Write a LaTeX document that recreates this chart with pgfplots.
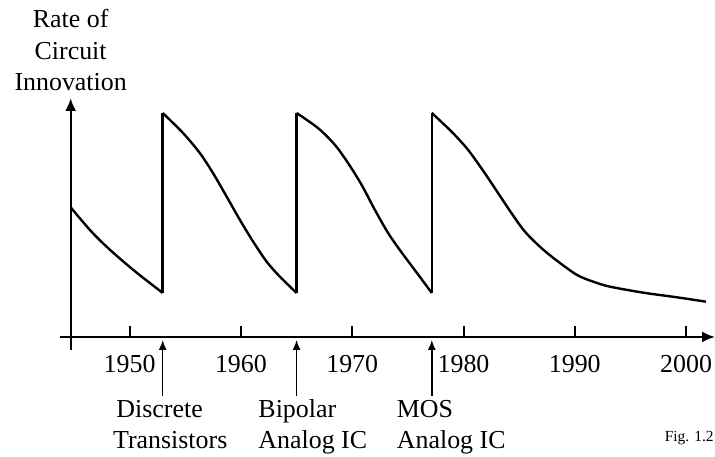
\documentclass[border=0pt]{standalone}
\usepackage{fontspec}
\setmainfont{Liberation Serif}
\usepackage{pgfplots}
\pgfplotsset{compat=1.18}
\usetikzlibrary{arrows.meta}
\begin{document}
\begin{tikzpicture}
\begin{axis}[
  x=11.13bp, y=1bp,
  xmin=1944.7, xmax=2002.6, ymin=-13, ymax=239,
  axis x line=middle, axis y line=left,
  x axis line style={line width=2.2bp, -{Latex[length=13bp,width=11bp]}, shorten <=-10.7bp},
  y axis line style={line width=2.2bp, -{Latex[length=13bp,width=11bp]}},
  xtick={1950,1960,1970,1980,1990,2000}, ytick=\empty,
  xtick align=inside, major tick length=11bp,
  every tick/.style={black, line width=2bp},
  /pgf/number format/assume math mode=true,
  /pgf/number format/1000 sep={},
  xticklabel style={font=\fontsize{26}{30}\selectfont, anchor=base, yshift=-36bp},
  clip=false,
]
% curve segments
\addplot[line width=2.4bp, smooth, tension=0.5] coordinates {(1944.7,129.7) (1946.43,107) (1948.08,88.7) (1950.33,67) (1952.97,44)};
\addplot[line width=2.4bp] coordinates {(1952.97,44) (1952.97,224)};
\addplot[line width=2.4bp, smooth, tension=0.5] coordinates {(1952.97,224) (1954.82,203.7) (1956.32,183.7) (1957.5,163.7) (1958.72,140.3) (1959.91,117) (1961.1,95.3) (1962.31,75.3) (1963.5,60.3) (1965.0,44)};
\addplot[line width=2.4bp] coordinates {(1965.0,44) (1965.0,224)};
\addplot[line width=2.4bp, smooth, tension=0.5] coordinates {(1965.0,224) (1966.95,208.7) (1968.45,192) (1969.64,173.7) (1970.85,152) (1972.04,127) (1973.24,103.7) (1974.44,84.5) (1975.85,63.5) (1977.15,44)};
\addplot[line width=2.4bp] coordinates {(1977.15,44) (1977.15,224)};
\addplot[line width=2.4bp, smooth, tension=0.5] coordinates {(1977.15,224) (1978.93,205.3) (1980.42,187) (1981.92,163.7) (1983.12,143.7) (1984.32,123.7) (1985.52,105.3) (1987.02,88.7) (1988.51,75.3) (1990.2,62) (1991.6,55.5) (1993.15,50.3) (1996.15,44.3) (1999.14,39.7) (2001.78,35.3)};
% annotation arrows
\draw[line width=1.5bp, -{Latex[length=10bp,width=8bp]}] (axis cs:1952.97,-59) -- (axis cs:1952.97,-3);
\draw[line width=1.5bp, -{Latex[length=10bp,width=8bp]}] (axis cs:1965.0,-59) -- (axis cs:1965.0,-3);
\draw[line width=1.5bp, -{Latex[length=10bp,width=8bp]}] (axis cs:1977.15,-59) -- (axis cs:1977.15,-3);
% texts
\node[font=\fontsize{26}{30}\selectfont, anchor=base, inner sep=0pt] at (axis cs:1944.7,309) {Rate of};
\node[font=\fontsize{26}{30}\selectfont, anchor=base, inner sep=0pt] at (axis cs:1944.7,277) {Circuit};
\node[font=\fontsize{26}{30}\selectfont, anchor=base, inner sep=0pt] at (axis cs:1944.7,246) {Innovation};
\node[font=\fontsize{26}{30}\selectfont, anchor=base west, inner sep=0pt] at (axis cs:1948.8,-81) {Discrete};
\node[font=\fontsize{26}{30}\selectfont, anchor=base west, inner sep=0pt] at (axis cs:1948.5,-112) {Transistors};
\node[font=\fontsize{26}{30}\selectfont, anchor=base west, inner sep=0pt] at (axis cs:1961.56,-81) {Bipolar};
\node[font=\fontsize{26}{30}\selectfont, anchor=base west, inner sep=0pt] at (axis cs:1961.56,-112) {Analog IC};
\node[font=\fontsize{26}{30}\selectfont, anchor=base west, inner sep=0pt] at (axis cs:1974.0,-81) {MOS};
\node[font=\fontsize{26}{30}\selectfont, anchor=base west, inner sep=0pt] at (axis cs:1974.0,-112) {Analog IC};
\node[font=\fontsize{15.5}{19}\selectfont, anchor=base east, inner sep=0pt] at (axis cs:2002.5,-104.7) {Fig. 1.2};
\coordinate (tl) at (axis cs:1938.35,337);
\coordinate (br) at (axis cs:2002.6,-120);
\end{axis}
\pgfresetboundingbox
\path[use as bounding box] (tl) rectangle (br);
\end{tikzpicture}
\end{document}
